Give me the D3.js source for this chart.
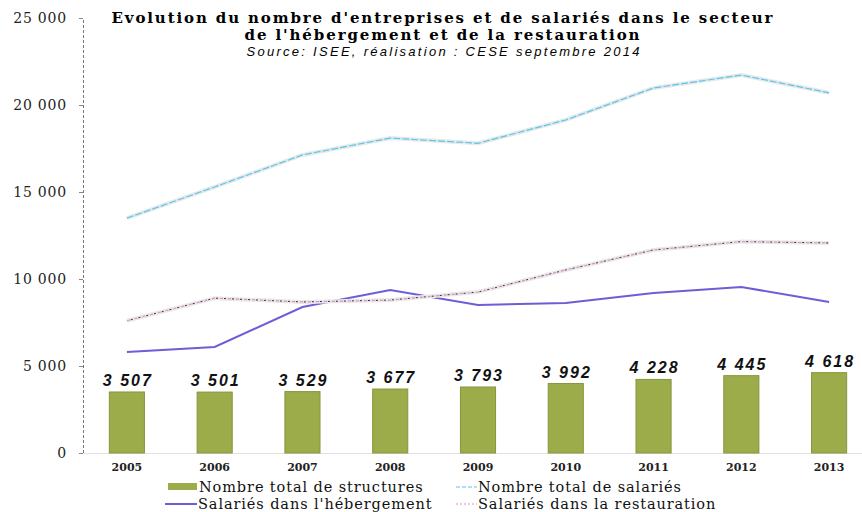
<!DOCTYPE html>
<html>
<head>
<meta charset="utf-8">
<script src="https://cdn.jsdelivr.net/npm/d3@7"></script>
<style>
  body { margin: 0; background: #fff; }
  svg { display: block; }
  .axisLabel { font-family: "DejaVu Serif", serif; font-size: 14px; letter-spacing: 0.8px; fill: #222; }
  .yearLabel { font-family: "DejaVu Serif", serif; font-size: 11px; font-weight: bold; fill: #222; }
  .barLabel { font-family: "Liberation Sans", Arial, sans-serif; font-size: 16px; font-weight: bold; font-style: italic; letter-spacing: 2px; fill: #111; }
  .legendText { font-family: "DejaVu Serif", serif; font-size: 14.5px; letter-spacing: 0.9px; fill: #111; }
</style>
</head>
<body>
<div id="chart"></div>
<script>
// data
var years = ["2005", "2006", "2007", "2008", "2009", "2010", "2011", "2012", "2013"];
var structures = [3507, 3501, 3529, 3677, 3793, 3992, 4228, 4445, 4618];
var totalSalaries = [13500, 15290, 17130, 18100, 17800, 19140, 20980, 21720, 20700];
var hebergement = [5800, 6090, 8390, 9370, 8510, 8620, 9200, 9540, 8680];
var restauration = [7600, 8900, 8680, 8790, 9250, 10520, 11670, 12150, 12070];
var yTicks = [0, 5000, 10000, 15000, 20000, 25000];

var width = 862, height = 512;
var plotLeft = 83, plotRight = 873, plotTop = 18, plotBottom = 453;

var fr = d3.formatLocale({ decimal: ",", thousands: " ", grouping: [3], currency: ["", " €"] });
var fmt = fr.format(",d");

var svg = d3.select("#chart")
  .append("svg")
  .attr("width", width)
  .attr("height", height);

var x = d3.scaleBand()
  .domain(years)
  .range([plotLeft, plotRight])
  .paddingInner(0.6)
  .paddingOuter(0.3);

var y = d3.scaleLinear()
  .domain([0, 25000])
  .range([plotBottom, plotTop]);

var cx = function(d, i) { return x(years[i]) + x.bandwidth() / 2; };

// X axis
var xAxis = d3.axisBottom(x)
  .tickSize(0)
  .tickPadding(10);

var gx = svg.append("g")
  .attr("transform", "translate(0," + plotBottom + ")")
  .call(xAxis);
gx.select(".domain").attr("stroke", "#e2e2e2");
gx.selectAll(".tick text").attr("class", "yearLabel").attr("font-family", null).attr("font-size", null);

// Y axis (dashed)
var yAxis = d3.axisLeft(y)
  .tickValues(yTicks)
  .tickSize(4)
  .tickPadding(12)
  .tickFormat(fmt);

var gy = svg.append("g")
  .attr("transform", "translate(" + plotLeft + ",0)")
  .call(yAxis);
gy.select(".domain").attr("stroke", "#777").attr("stroke-dasharray", "3,2");
gy.selectAll(".tick line").attr("stroke", "#888");
gy.selectAll(".tick text").attr("class", "axisLabel").attr("font-family", null).attr("font-size", null);

// Bars
svg.selectAll(".bar")
  .data(structures)
  .enter()
  .append("rect")
  .attr("class", "bar")
  .attr("x", (d, i) => x(years[i]))
  .attr("width", x.bandwidth())
  .attr("y", d => y(d))
  .attr("height", d => plotBottom - y(d))
  .attr("fill", "#9cac4a")
  .attr("stroke", "#86963c")
  .attr("stroke-width", 1);

svg.selectAll(".barLabel")
  .data(structures)
  .enter()
  .append("text")
  .attr("class", "barLabel")
  .attr("text-anchor", "middle")
  .attr("x", (d, i) => cx(d, i) + 1)
  .attr("y", d => y(d) - 6)
  .text(d => fmt(d));

// Lines
var line = d3.line()
  .x(cx)
  .y(d => y(d));

// total salariés
svg.append("path")
  .attr("d", line(totalSalaries))
  .attr("fill", "none")
  .attr("stroke", "#e8e8e8")
  .attr("stroke-width", 4);
svg.append("path")
  .attr("d", line(totalSalaries))
  .attr("fill", "none")
  .attr("stroke", "#55c8ef")
  .attr("stroke-width", 1.2)
  .attr("stroke-dasharray", "7,2");

// hébergement
svg.append("path")
  .attr("d", line(hebergement))
  .attr("fill", "none")
  .attr("stroke", "#6b5ed6")
  .attr("stroke-width", 2);

// restauration
svg.append("path")
  .attr("d", line(restauration))
  .attr("fill", "none")
  .attr("stroke", "#e8e8e8")
  .attr("stroke-width", 4);
svg.append("path")
  .attr("d", line(restauration))
  .attr("fill", "none")
  .attr("stroke", "#e889c8")
  .attr("stroke-width", 1.2)
  .attr("stroke-dasharray", "3,5");
svg.append("path")
  .attr("d", line(restauration))
  .attr("fill", "none")
  .attr("stroke", "#333")
  .attr("stroke-width", 1)
  .attr("stroke-dasharray", "2,6")
  .attr("stroke-dashoffset", 4);

// Title
svg.append("text")
  .attr("x", 442).attr("y", 23)
  .attr("text-anchor", "middle")
  .attr("font-family", "DejaVu Serif, serif")
  .attr("font-weight", "bold")
  .attr("font-size", 15)
  .attr("textLength", 661)
  .text("Evolution du nombre d'entreprises et de salariés dans le secteur");
svg.append("text")
  .attr("x", 442).attr("y", 40)
  .attr("text-anchor", "middle")
  .attr("font-family", "DejaVu Serif, serif")
  .attr("font-weight", "bold")
  .attr("font-size", 15)
  .attr("textLength", 395)
  .text("de l'hébergement et de la restauration");
svg.append("text")
  .attr("x", 443).attr("y", 56)
  .attr("text-anchor", "middle")
  .attr("font-family", "Liberation Sans, Arial, sans-serif")
  .attr("font-style", "italic")
  .attr("font-size", 13)
  .attr("textLength", 393)
  .text("Source: ISEE, réalisation : CESE septembre 2014");

// Legend
var legendItems = [
  { label: "Nombre total de structures", x: 168, y: 487, type: "bar" },
  { label: "Nombre total de salariés", x: 456, y: 487, type: "cyan" },
  { label: "Salariés dans l'hébergement", x: 165, y: 504, type: "blue" },
  { label: "Salariés dans la restauration", x: 456, y: 504, type: "pink" }
];

var lg = svg.selectAll(".legend")
  .data(legendItems)
  .enter()
  .append("g")
  .attr("transform", d => "translate(" + d.x + "," + d.y + ")");

lg.each(function(d) {
  var g = d3.select(this);
  if (d.type == "bar") {
    g.append("rect").attr("x", 0).attr("y", -4).attr("width", 29).attr("height", 7).attr("fill", "#9cac4a");
  } else if (d.type == "cyan") {
    g.append("line").attr("x1", 0).attr("x2", 21).attr("y1", 0).attr("y2", 0)
      .attr("stroke", "#55c8ef").attr("stroke-width", 1.2).attr("stroke-dasharray", "4,2");
  } else if (d.type == "blue") {
    g.append("line").attr("x1", 0).attr("x2", 32).attr("y1", 0).attr("y2", 0)
      .attr("stroke", "#6b5ed6").attr("stroke-width", 2);
  } else {
    g.append("line").attr("x1", 0).attr("x2", 21).attr("y1", 0).attr("y2", 0)
      .attr("stroke", "#e889c8").attr("stroke-width", 1.2).attr("stroke-dasharray", "2,2");
  }
  g.append("text")
    .attr("class", "legendText")
    .attr("x", d.type == "bar" ? 31 : d.type == "blue" ? 33 : 22)
    .attr("y", 5)
    .text(d.label);
});
</script>
</body>
</html>
